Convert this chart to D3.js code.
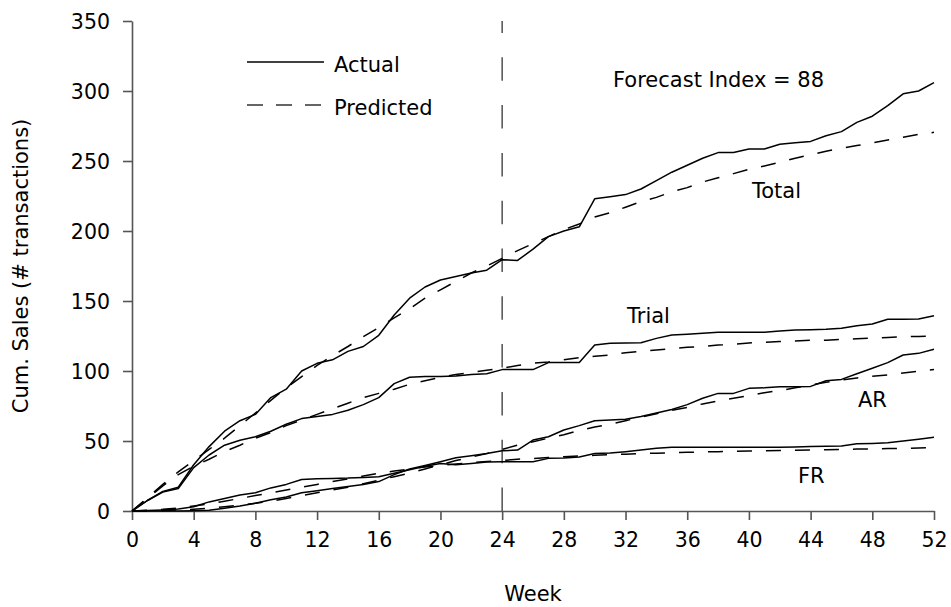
<!DOCTYPE html>
<html>
<head>
<meta charset="utf-8">
<script src="https://cdn.jsdelivr.net/npm/d3@7"></script>
<style>
  html, body { margin: 0; padding: 0; background: #fff; }
  svg { display: block; }
  text { font-family: "DejaVu Sans", Verdana, sans-serif; fill: #000; }
</style>
</head>
<body>
<svg id="chart" width="951" height="607"></svg>
<script>
// ---- data ----
const weeks = [0,1,2,3,4,5,6,7,8,9,10,11,12,13,14,15,16,17,18,19,20,21,22,23,24,25,26,
  27,28,29,30,31,32,33,34,35,36,37,38,39,40,41,42,43,44,45,46,47,48,49,50,51,52];

const totalActual = [0,7.5,14,17,33,46,57,64.5,69,81,87,100,105.5,108,114,117.5,125.5,140,152,160,165,167.5,170,172,179.5,
  179,187,196,200,203,223,224.5,226,230,236,242,247,252,256,256,258.6,258.6,262,263,264,268,271,277.6,282,289.5,298,300,306];
const totalPredicted = [0,9.5,19,28,36,44,52,61,70,79,88,96,104,111,117.5,124.5,131,138,144.5,152,158,164,170,175,180.5,
  186,191,196,201,205,210,213,217,221,224,228,231,235,238,241,244,246.5,249,252,254.5,257,259,261,263,265,267,269,270.5];

const trialActual = [0,7.5,13.5,16,31,40,47,50.5,53,57,62,66,67.5,69,72,76,81,91,95.5,96,96,96.5,97.5,98,101,
  101,101,106,106,106,118.5,119.8,120,120.2,123.3,125.7,126.3,127,127.6,127.6,127.6,127.6,128.5,129.3,129.5,129.8,130.5,132.4,133.6,137,137,137.1,139.5];
const trialPredicted = [0,9,18,26,32,37,42.5,47,52,56,61,65,69,73,77,81,84,87,90.5,93,95.5,97.5,99,100.5,102,
  104,105.5,106.5,108,109.5,110.5,111.5,113,114,115,116,117,117.5,118.5,119,120,120.5,121,121.5,122,122,122.5,123,123.5,124,124.5,124.7,125];

const arActual = [0,0,0,0,0.2,0.5,2,3.5,5.5,8,10,13,14.5,16,17.5,19,21,26,30,32.5,35.2,38,39.5,41,43,
  43.5,50.7,53,57.9,61,64.5,65,65.5,67.5,70,72.5,76,80.5,84,84,87.6,88,88.8,88.8,89,93,94,98,102,106,111.4,112.6,115.5];
const arPredicted = [0,0,0.3,0.7,1.3,2,3,4.2,5.5,7,9,11,13,15,17,19.5,22,24.5,27,30,33,36,38.5,41,44,
  47,49.5,52,54.5,57.5,60,62,64.5,67,69.5,72,74,76.5,78.5,80.5,82.5,84.5,86,88,90,92,93.5,95,96.2,97.2,98.5,99.8,101];

const frActual = [0,0.3,0.8,1.5,3,6.5,9,11.5,13,16.5,19,22.5,23,23.3,23.5,24,24.5,27,29.5,32,34,33,34,35,35.2,
  35.2,35.2,37.6,37.8,38.5,41,41.5,42.4,43.5,44.8,45.5,45.5,45.5,45.5,45.5,45.5,45.5,45.5,45.7,46,46.3,46.5,48,48.3,48.8,50,51.3,52.6];
const frPredicted = [0,0.5,1.2,2.2,3.5,5,7,9,11,13,15,17,19,21,23,25,27,28.5,30,31.5,32.5,33.5,34.5,35.3,36,
  37,37.5,38.2,38.8,39.3,39.8,40.2,40.6,41,41.3,41.6,41.9,42.2,42.4,42.6,42.8,43,43.2,43.4,43.6,43.8,44,44.2,44.4,44.6,44.8,45,45.2];

const xTicks = [0,4,8,12,16,20,24,28,32,36,40,44,48,52];
const yTicks = [0,50,100,150,200,250,300,350];
const cutoffWeek = 24;
const seriesLabels = ["Total","Trial","AR","FR"];
const legendLabels = ["Actual","Predicted"];
const annotation = "Forecast Index = 88";
const xTitle = "Week";
const yTitle = "Cum. Sales (# transactions)";

// ---- layout ----
const svg = d3.select("#chart");
const x = d3.scaleLinear().domain([0, 52]).range([132, 934]);
const y = d3.scaleLinear().domain([0, 350]).range([511, 21]);
const FS = 20.5;   // tick labels
const LFS = 21;    // other text
const axisColor = "#555";

// axes
const xAxis = d3.axisBottom(x).tickValues(xTicks).tickSize(9).tickPadding(8).tickSizeOuter(0);
const gx = svg.append("g").attr("transform", `translate(0,${y(0)})`).call(xAxis);
const yAxis = d3.axisLeft(y).tickValues(yTicks).tickSize(9).tickPadding(13).tickSizeOuter(0);
const gy = svg.append("g").attr("transform", `translate(${x(0)},0)`).call(yAxis);
[gx, gy].forEach(g => {
  g.select(".domain").attr("stroke", axisColor).attr("stroke-width", 1.6);
  g.selectAll(".tick line").attr("stroke", axisColor).attr("stroke-width", 1.6);
  g.selectAll(".tick text").attr("font-family", "DejaVu Sans").attr("font-size", FS).attr("fill", "#000");
});
gx.selectAll(".tick text").attr("dy", null).attr("y", 36);
gy.selectAll(".tick text").attr("dy", "0.36em");

// cutoff line
svg.append("line")
  .attr("x1", x(cutoffWeek)).attr("x2", x(cutoffWeek))
  .attr("y1", y(0)).attr("y2", y(350))
  .attr("stroke", "#444").attr("stroke-width", 1.4)
  .attr("stroke-dasharray", "23.5,24.3");

// lines
const line = d3.line().x((d, i) => x(weeks[i])).y(d => y(d)).curve(d3.curveLinear);
const actuals = [totalActual, trialActual, arActual, frActual];
const preds = [totalPredicted, trialPredicted, arPredicted, frPredicted];
preds.forEach(s => {
  svg.append("path").attr("d", line(s)).attr("fill", "none")
    .attr("stroke", "#000").attr("stroke-width", 1.5)
    .attr("stroke-dasharray", "15,14");
});
actuals.forEach(s => {
  svg.append("path").attr("d", line(s)).attr("fill", "none")
    .attr("stroke", "#000").attr("stroke-width", 1.5)
    .attr("stroke-linejoin", "round");
});

// series labels
const labelPos = [[752, 198], [627, 323], [858, 407], [798, 483]];
seriesLabels.forEach((t, i) => {
  svg.append("text").attr("x", labelPos[i][0]).attr("y", labelPos[i][1])
    .attr("font-size", LFS).text(t);
});

// legend
const legY = [62, 105];
legendLabels.forEach((t, i) => {
  svg.append("line").attr("x1", 247).attr("x2", 324).attr("y1", legY[i]).attr("y2", legY[i])
    .attr("stroke", i === 0 ? "#000" : "#333").attr("stroke-width", 1.5)
    .attr("stroke-dasharray", i === 0 ? null : "16,13");
  svg.append("text").attr("x", 334).attr("y", legY[i] + 9.5).attr("font-size", LFS).text(t);
});

// annotation
svg.append("text").attr("x", 613).attr("y", 87).attr("font-size", LFS).text(annotation);

// axis titles
svg.append("text").attr("x", 533).attr("y", 601).attr("text-anchor", "middle")
  .attr("font-size", LFS).text(xTitle);
svg.append("text").attr("transform", `translate(28,${(y(0) + y(350)) / 2}) rotate(-90)`)
  .attr("text-anchor", "middle").attr("font-size", LFS).text(yTitle);
</script>
</body>
</html>
